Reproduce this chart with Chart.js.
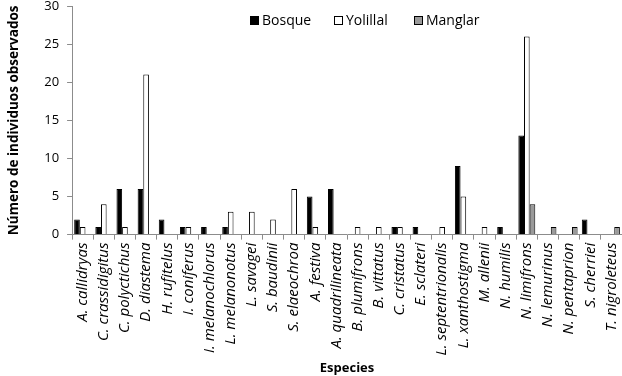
<!DOCTYPE html>
<html>
<head>
<meta charset="utf-8">
<script src="https://cdn.jsdelivr.net/npm/chart.js@4.4.1/dist/chart.umd.min.js"></script>
<style>
  html, body { margin: 0; padding: 0; background: #fff; }
  #wrap { width: 622px; height: 376px; }
</style>
</head>
<body>
<div id="wrap"><canvas id="chart" width="622" height="376"></canvas></div>
<script>
const species = [
  'A. callidryas', 'C. crassidigitus', 'C. polyctichus', 'D. diastema', 'H. rufitelus',
  'I. coniferus', 'I. melanochlorus', 'L. melanonotus', 'L. savagei', 'S. baudinii',
  'S. elaeochroa', 'A. festiva', 'A. quadrilineata', 'B. plumifrons', 'B. vittatus',
  'C. cristatus', 'E. sclateri', 'L. septentrionalis', 'L. xanthostigma', 'M. allenii',
  'N. humilis', 'N. limifrons', 'N. lemurinus', 'N. pentaprion', 'S. cherriei', 'T. nigroleteus'
];
const bosque   = [2, 1, 6, 6, 2, 1, 1, 1, 0, 0, 0, 5, 6, 0, 0, 1, 1, 0, 9, 0, 1, 13, 0, 0, 2, 0];
const yolillal = [1, 4, 1, 21, 0, 1, 0, 3, 3, 2, 6, 1, 0, 1, 1, 1, 0, 1, 5, 1, 0, 26, 0, 0, 0, 0];
const manglar  = [0, 0, 0, 0, 0, 0, 0, 0, 0, 0, 0, 0, 0, 0, 0, 0, 0, 0, 0, 0, 0, 4, 1, 1, 0, 1];
const yTicks = [0, 5, 10, 15, 20, 25, 30];

const FONT = '"Open Sans", Lato, sans-serif';
const axisColor = '#8c8c8c';

// legend sits inside the plot, one row, like the original
const inlineLegend = {
  id: 'inlineLegend',
  afterDraw(chart) {
    const ctx = chart.ctx;
    const starts = [250, 334, 414];
    const y = 16, box = 9;
    ctx.save();
    ctx.font = '14px ' + FONT;
    ctx.textBaseline = 'middle';
    ctx.textAlign = 'left';
    chart.data.datasets.forEach((ds, i) => {
      const x = starts[i];
      ctx.fillStyle = ds.backgroundColor;
      ctx.fillRect(x, y, box, box);
      ctx.strokeStyle = '#000';
      ctx.lineWidth = 1;
      ctx.strokeRect(x + 0.5, y + 0.5, box - 1, box - 1);
      ctx.fillStyle = '#000';
      ctx.fillText(ds.label, x + box + 3, y + box / 2 + 0.5);
    });
    ctx.restore();
  }
};

new Chart(document.getElementById('chart'), {
  type: 'bar',
  data: {
    labels: species,
    datasets: [
      { label: 'Bosque', data: bosque, backgroundColor: '#000', borderColor: '#000', borderWidth: 1 },
      { label: 'Yolillal', data: yolillal, backgroundColor: '#fff', borderColor: '#000', borderWidth: 1 },
      { label: 'Manglar', data: manglar, backgroundColor: '#9a9a9a', borderColor: '#000', borderWidth: 1 }
    ]
  },
  options: {
    responsive: false,
    animation: false,
    layout: { padding: { top: 0, right: 0, left: 6, bottom: 0 } },
    datasets: { bar: { categoryPercentage: 0.8, barPercentage: 1.0 } },
    plugins: {
      tooltip: { enabled: false },
      legend: { display: false }
    },
    scales: {
      x: {
        afterFit(axis) { axis.paddingRight = 0; },
        grid: { display: true, drawOnChartArea: false, offset: true, color: axisColor, tickLength: 5 },
        border: { color: axisColor },
        ticks: {
          color: '#000',
          minRotation: 90, maxRotation: 90,
          autoSkip: false,
          padding: 3,
          font: { family: FONT, size: 15, style: 'italic' }
        },
        title: {
          display: true, text: 'Especies', color: '#000',
          font: { family: FONT, size: 13, weight: 'bold' },
          padding: { top: 2, bottom: 0 }
        }
      },
      y: {
        min: 0, max: 30,
        afterBuildTicks(axis) { axis.ticks = yTicks.map(v => ({ value: v })); },
        afterFit(axis) { axis.paddingTop = 6; },
        grid: { display: true, drawOnChartArea: false, color: axisColor, tickLength: 5 },
        border: { color: axisColor },
        ticks: {
          color: '#000',
          padding: 8,
          font: { family: FONT, size: 13 }
        },
        title: {
          display: true, text: 'Número de individuos observados', color: '#000',
          font: { family: FONT, size: 13.5, weight: 'bold' },
          padding: { top: 0, bottom: 14 }
        }
      }
    }
  },
  plugins: [inlineLegend]
});
</script>
</body>
</html>
